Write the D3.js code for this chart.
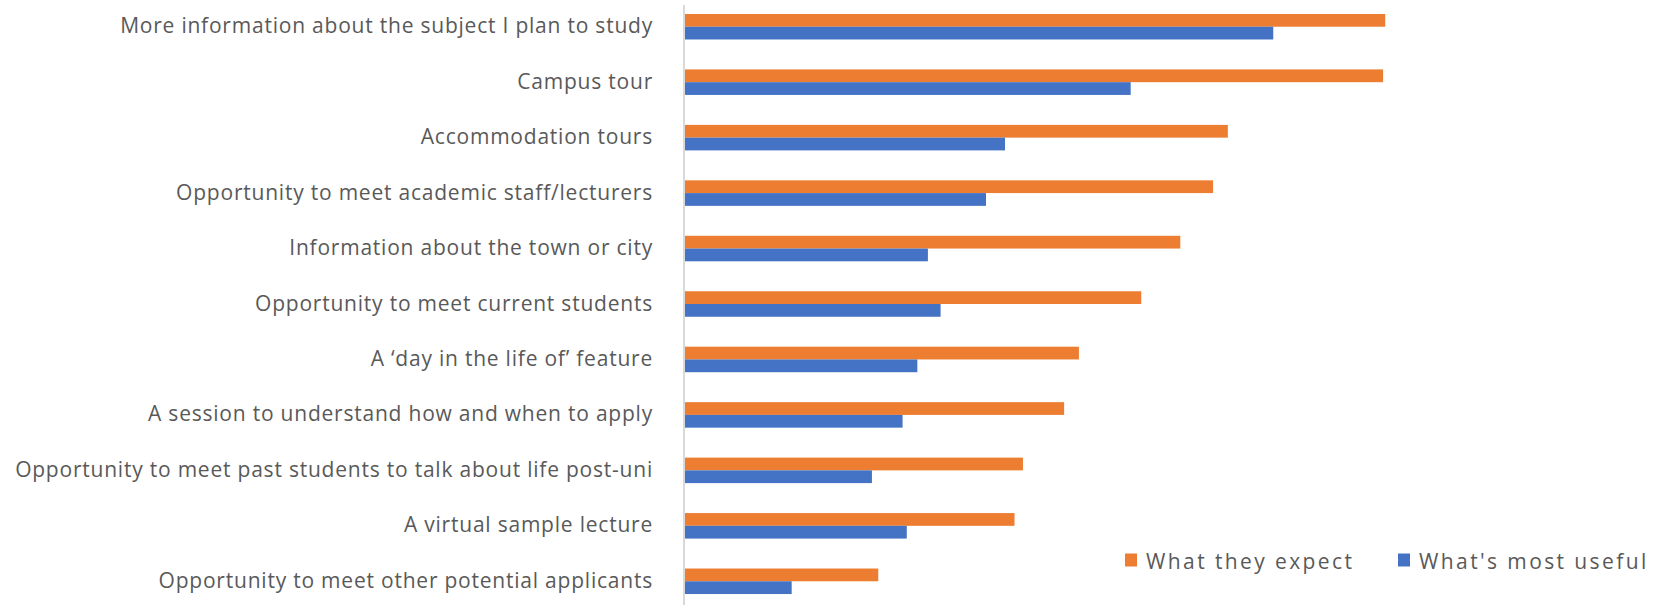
<!DOCTYPE html>
<html>
<head>
<meta charset="utf-8">
<script src="https://cdn.jsdelivr.net/npm/d3@7"></script>
<style>
html,body{margin:0;padding:0;background:#fff;}
svg{display:block;}
text{font-family:"Open Sans","Noto Sans",sans-serif;}
</style>
</head>
<body>
<svg id="chart" width="1656" height="605"></svg>
<script>
const categories = [
  "More information about the subject I plan to study",
  "Campus tour",
  "Accommodation tours",
  "Opportunity to meet academic staff/lecturers",
  "Information about the town or city",
  "Opportunity to meet current students",
  "A \u2018day in the life of\u2019 feature",
  "A session to understand how and when to apply",
  "Opportunity to meet past students to talk about life post-uni",
  "A virtual sample lecture",
  "Opportunity to meet other potential applicants"
];
const seriesNames = ["What they expect", "What's most useful"];
const expectValues = [66.3, 66.1, 51.4, 50.0, 46.9, 43.2, 37.3, 35.9, 32.0, 31.2, 18.3];
const usefulValues = [55.7, 42.2, 30.3, 28.5, 23.0, 24.2, 22.0, 20.6, 17.7, 21.0, 10.1];
const colors = ["#ED7D31", "#4472C4"];

const svg = d3.select("#chart");
const W = 1656, H = 605;
const axisX = 685;

const x = d3.scaleLinear().domain([0, 100]).range([axisX, axisX + 1056.1]);
const y = d3.scaleBand().domain(categories).range([-1.0, 609.0]).paddingInner(0.54).paddingOuter(0.27);
const ySub = d3.scaleBand().domain(seriesNames).range([0, y.bandwidth()]).padding(0);

const seriesData = [expectValues, usefulValues];

// bars
categories.forEach((c, i) => {
  const g = svg.append("g").attr("transform", `translate(0,${y(c)})`);
  seriesNames.forEach((s, j) => {
    g.append("rect")
      .attr("x", x(0))
      .attr("y", ySub(s))
      .attr("width", x(seriesData[j][i]) - x(0))
      .attr("height", ySub.bandwidth())
      .attr("fill", colors[j]);
  });
});

// axis line
svg.append("line")
  .attr("x1", axisX - 1).attr("x2", axisX - 1)
  .attr("y1", 5).attr("y2", H)
  .attr("stroke", "#d9d9d9").attr("stroke-width", 2);

// category labels
svg.append("g").selectAll("text").data(categories).join("text")
  .attr("x", 653)
  .attr("y", d => y(d) + y.bandwidth() / 2 - 1.5)
  .attr("text-anchor", "end")
  .attr("dominant-baseline", "central")
  .attr("font-size", 21)
  .attr("letter-spacing", 0.78)
  .attr("fill", "#595959")
  .text(d => d);

// legend
const legendX = [1125, 1398];
const legendY = 560.5;
seriesNames.forEach((s, j) => {
  svg.append("rect")
    .attr("x", legendX[j]).attr("y", legendY - 7)
    .attr("width", 12).attr("height", 13)
    .attr("fill", colors[j]);
  svg.append("text")
    .attr("x", legendX[j] + 21).attr("y", legendY)
    .attr("dominant-baseline", "central")
    .attr("font-size", 21)
    .attr("letter-spacing", 2.4)
    .attr("fill", "#595959")
    .text(s);
});
</script>
</body>
</html>
